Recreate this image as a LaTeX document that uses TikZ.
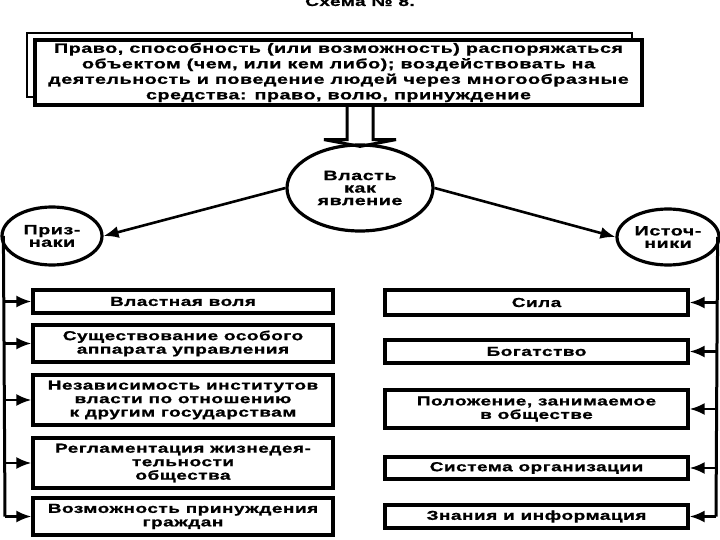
\documentclass[tikz,border=0pt]{standalone}
\usepackage{fontspec}
\setmainfont{Liberation Sans}
\newfontfamily\schfont[FakeStretch=1.46,LetterSpace=4,FakeBold=1]{Liberation Sans Bold}
\usetikzlibrary{arrows.meta, positioning, shapes.geometric, calc}

\tikzset{
  box/.style={draw, line width=3.2pt, fill=white, align=center, inner sep=0pt,
    minimum width=300pt, font=\schfont\fontsize{13}{13.5}\selectfont},
  oval/.style={draw, ellipse, line width=3.2pt, fill=white, align=center, inner sep=0pt,
    font=\schfont\fontsize{13.5}{12.5}\selectfont},
  arr/.style={-{Latex[length=15pt,width=12pt]}, line width=2.6pt},
  trunk/.style={line width=3pt},
}

\begin{document}
\begin{tikzpicture}[x=1pt, y=-1pt]
    \useasboundingbox (0,0) rectangle (720,540);
    % Заголовок
    \node[font=\schfont\fontsize{13}{14}\selectfont] (title) at (360,1.5) {Схема № 8.};
    % Определение
    \draw[line width=1.4pt, fill=white] (27,33) rectangle (632,97);
    \node[box, minimum width=607pt, minimum height=65pt,
      font=\schfont\fontsize{13.5}{15.5}\selectfont] (def) at (338.5,72.5)
      {Право, способность (или возможность) распоряжаться\\
       объектом (чем, или кем либо); воздействовать на\\
       деятельность и поведение людей через многообразные\\
       средства: право, волю, принуждение};
    % Власть
    \node[oval, minimum width=146pt, minimum height=86pt] (vl) at (360,188) {Власть\\как\\явление};
    \draw[line width=3pt]
      ($(def.south -| vl.north)+(-13,0)$) -- ++(0,33) -- ++(-23,0) -- ($(vl.north)+(0,3)$)
      -- ($(def.south -| vl.north)+(36,33)$) -- ++(-23,0) -- ($(def.south -| vl.north)+(13,0)$);
    \node[oval, minimum width=100pt, minimum height=58pt] (pr) at (52,236) {Приз-\\наки};
    \node[oval, minimum width=102pt, minimum height=56pt] (ist) at (668,237) {Источ-\\ники};
    \draw[arr] (vl.west) -- (pr.east);
    \draw[arr] (vl.east) -- (ist.west);
    % Признаки
    \node[box, minimum height=23pt] (a1) at (183,301.5) {Властная воля};
    \node[box, minimum height=37pt] (a2) at (183,343.5) {Существование особого\\аппарата управления};
    \node[box, minimum height=50pt] (a3) at (183,400) {Независимость институтов\\власти по отношению\\к другим государствам};
    \node[box, minimum height=50pt] (a4) at (183,463) {Регламентация жизнедея-\\тельности\\общества};
    \node[box, minimum height=37pt] (a5) at (183,516.5) {Возможность принуждения\\граждан};
    \coordinate (lx) at (5,0);
    \draw[trunk] ($(pr.west)+(3,0)$) -- (a5.west -| lx);
    \foreach \i in {1,...,5}
        \draw[arr] (a\i.west -| lx) -- (a\i.west);
    % Источники
    \node[box, minimum width=303pt, minimum height=25pt] (b1) at (536.5,302.5) {Сила};
    \node[box, minimum width=303pt, minimum height=23pt] (b2) at (536.5,351.5) {Богатство};
    \node[box, minimum width=303pt, minimum height=38pt] (b3) at (536.5,409) {Положение, занимаемое\\в обществе};
    \node[box, minimum width=303pt, minimum height=22pt] (b4) at (536.5,468) {Система организации};
    \node[box, minimum width=303pt, minimum height=23pt] (b5) at (536.5,516.5) {Знания и информация};
    \coordinate (rx) at (716,0);
    \draw[trunk] ($(ist.east)+(-3,0)$) -- (b5.east -| rx);
    \foreach \i in {1,...,5}
        \draw[arr] (b\i.east -| rx) -- (b\i.east);
\end{tikzpicture}
\end{document}
